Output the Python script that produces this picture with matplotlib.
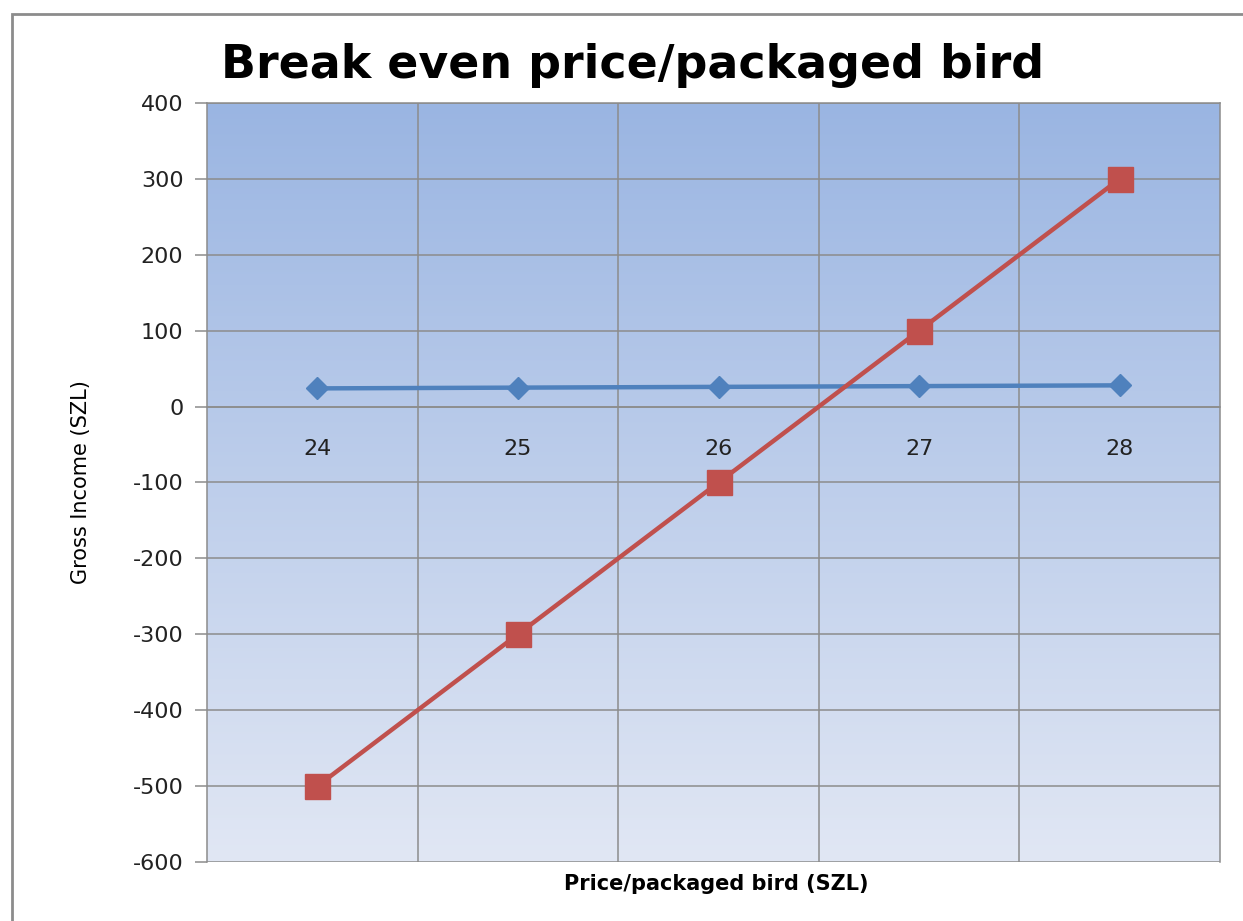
import numpy as np
import matplotlib.pyplot as plt
from matplotlib.colors import LinearSegmentedColormap
from matplotlib.patches import Rectangle

plt.rcParams['axes.unicode_minus'] = False

# dados
prices = ['24', '25', '26', '27', '28']
series_blue = [24, 25, 26, 27, 28]
series_red = [-500, -300, -100, 100, 300]

fig = plt.figure(figsize=(12.43, 9.21), dpi=100)
ax = fig.add_axes([207 / 1243, 59 / 921, 1013 / 1243, 759 / 921])

# moldura externa
fig.patches.append(Rectangle((12 / 1243, -0.05), 1.1, 1 - 14 / 921 + 0.05,
                             transform=fig.transFigure, fill=False,
                             edgecolor='#8c8c8c', lw=2))

# fundo em gradiente
grad = LinearSegmentedColormap.from_list('g', ['#e1e7f4', '#9ab5e2'])
ax.imshow(np.linspace(0, 1, 256).reshape(-1, 1), cmap=grad, origin='lower',
          extent=[-0.55, 4.5, -600, 400], aspect='auto', zorder=0)

x = np.arange(len(prices))
ax.plot(x, series_blue, color='#4f81bd', lw=3.2, marker='D', ms=11,
        zorder=3)
ax.plot(x, series_red, color='#c0504d', lw=3.2, marker='s', ms=18,
        zorder=4)

ax.set_xlim(-0.55, 4.5)
ax.set_ylim(-600, 400)
ax.set_yticks(range(-600, 401, 100))
ax.set_xticks(x)
ax.set_xticklabels(prices)
ax.set_xticks(np.arange(0.5, 4, 1), minor=True)

ax.grid(True, axis='y', color='#8c8c8c', lw=1.1, zorder=1)
ax.grid(True, axis='x', which='minor', color='#8c8c8c', lw=1.1, zorder=1)
ax.set_axisbelow(True)

for s in ['top', 'right', 'left']:
    ax.spines[s].set_color('#8c8c8c')
    ax.spines[s].set_linewidth(1.1)
ax.spines['bottom'].set_position(('data', 0))
ax.spines['bottom'].set_color('#8c8c8c')
ax.spines['bottom'].set_linewidth(1.1)

ax.tick_params(axis='y', length=9, width=1.1, color='#8c8c8c', pad=8,
               labelsize=16, labelcolor='#222222')
ax.tick_params(axis='x', which='both', length=0, pad=23, labelsize=16,
               labelcolor='#222222')

ax.set_ylabel('Gross Income (SZL)', fontsize=15, labelpad=30)
fig.text(716 / 1243, 1 - 884 / 921, 'Price/packaged bird (SZL)',
         ha='center', va='center', fontsize=15, fontweight='bold')
fig.text(633 / 1243, 1 - 66 / 921, 'Break even price/packaged bird',
         ha='center', va='center', fontsize=33, fontweight='bold')

plt.savefig('out.png', dpi=100)
